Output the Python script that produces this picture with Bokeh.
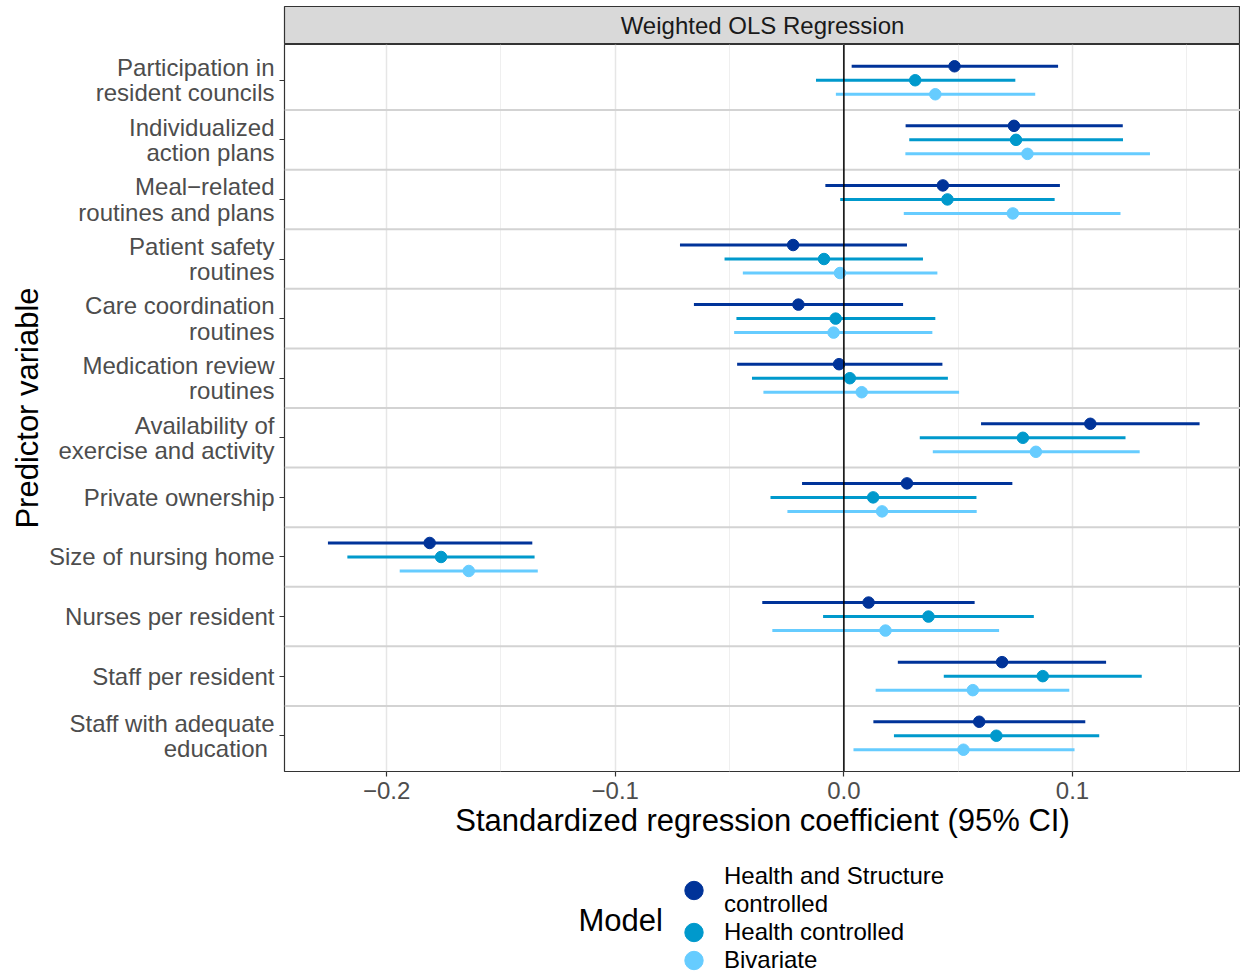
import numpy as np
from bokeh.plotting import figure
from bokeh.layouts import column
from bokeh.models import (ColumnDataSource, FactorRange, Range1d, Span, FixedTicker,
                          CustomJSTickFormatter, Legend, LegendItem, Label)
from bokeh.transform import dodge
from bokeh.embed import file_html
from bokeh.resources import INLINE

# ---------------- data ----------------
categories = [
    "Participation in\nresident councils",
    "Individualized\naction plans",
    "Meal\u2212related\nroutines and plans",
    "Patient safety\nroutines",
    "Care coordination\nroutines",
    "Medication review\nroutines",
    "Availability of\nexercise and activity",
    "Private ownership",
    "Size of nursing home",
    "Nurses per resident",
    "Staff per resident",
    "Staff with adequate\neducation ",
]
model_labels = ["Health and Structure\ncontrolled", "Health controlled", "Bivariate"]

hs_est = [0.0484, 0.0744, 0.0433, -0.0222, -0.0199, -0.0021, 0.1078, 0.0276, -0.1812, 0.0108, 0.0692, 0.0592]
hs_lo = [0.0034, 0.0270, -0.0081, -0.0717, -0.0656, -0.0467, 0.0600, -0.0183, -0.2257, -0.0357, 0.0236, 0.0129]
hs_hi = [0.0937, 0.1220, 0.0945, 0.0276, 0.0259, 0.0431, 0.1556, 0.0737, -0.1363, 0.0572, 0.1147, 0.1056]

h_est = [0.0312, 0.0753, 0.0453, -0.0087, -0.0036, 0.0026, 0.0783, 0.0128, -0.1762, 0.0370, 0.0870, 0.0667]
h_lo = [-0.0122, 0.0286, -0.0016, -0.0522, -0.0470, -0.0402, 0.0332, -0.0321, -0.2172, -0.0091, 0.0437, 0.0219]
h_hi = [0.0750, 0.1221, 0.0922, 0.0346, 0.0400, 0.0455, 0.1232, 0.0580, -0.1353, 0.0831, 0.1303, 0.1117]

b_est = [0.0400, 0.0803, 0.0739, -0.0017, -0.0045, 0.0078, 0.0840, 0.0167, -0.1641, 0.0182, 0.0564, 0.0523]
b_lo = [-0.0035, 0.0269, 0.0262, -0.0442, -0.0480, -0.0352, 0.0389, -0.0247, -0.1943, -0.0313, 0.0139, 0.0042]
b_hi = [0.0837, 0.1339, 0.1210, 0.0409, 0.0387, 0.0504, 0.1294, 0.0581, -0.1339, 0.0679, 0.0986, 0.1009]

x_ticks = [-0.2, -0.1, 0.0, 0.1]
x_minor = [-0.25, -0.15, -0.05, 0.05, 0.15]

# ---------------- styling ----------------
FONT = "Liberation Sans"
colors = ["#003399", "#0099CC", "#66CCFF"]
offsets = [0.235, 0.0, -0.235]
W = 1240
LEFT = 284

# ---------------- strip ----------------
strip = figure(width=W, height=44, x_range=Range1d(0, 1), y_range=Range1d(0, 1),
               toolbar_location=None, output_backend="svg",
               x_axis_location=None, y_axis_location=None,
               min_border_left=LEFT, min_border_right=0, min_border_top=6, min_border_bottom=0)
strip.grid.visible = False
strip.background_fill_color = "#d9d9d9"
strip.outline_line_color = "#333333"
strip.outline_line_width = 1.2
strip.add_layout(Label(x=0.5, y=0.5, text="Weighted OLS Regression", text_align="center",
                       text_baseline="middle", text_font=FONT, text_font_size="24px",
                       text_color="#1a1a1a"))

# ---------------- main ----------------
p = figure(width=W, height=812,
           x_range=Range1d(-0.2447, 0.1735),
           y_range=FactorRange(*list(reversed(categories)), range_padding=0.2 / 12,
                               range_padding_units="percent"),
           toolbar_location=None, output_backend="svg",
           min_border_left=LEFT, min_border_right=0, min_border_top=0, min_border_bottom=85)

p.background_fill_color = "white"
p.outline_line_color = "#333333"
p.outline_line_width = 1.2

ticker = FixedTicker(ticks=x_ticks, minor_ticks=x_minor)
p.xaxis.ticker = ticker
p.xgrid.ticker = ticker
p.xaxis.formatter = CustomJSTickFormatter(code="return tick.toFixed(1).replace('-', '\u2212');")
p.xgrid.grid_line_color = "#e6e6e6"
p.xgrid.grid_line_width = 1.5
p.xgrid.minor_grid_line_color = "#efefef"
p.xgrid.minor_grid_line_width = 1.0
p.ygrid.grid_line_color = None

for k in range(1, len(categories)):
    p.add_layout(Span(location=k, dimension="width", line_color="#d3d3d3",
                      line_width=2, level="underlay"))

for ax in (p.xaxis, p.yaxis):
    ax.axis_line_color = None
    ax.major_tick_line_color = "#333333"
    ax.major_tick_line_width = 1.2
    ax.major_tick_out = 5
    ax.major_tick_in = 0
    ax.minor_tick_out = 0
    ax.minor_tick_in = 0
    ax.major_label_text_font = FONT
    ax.major_label_text_color = "#4d4d4d"
    ax.major_label_text_font_size = "24px"
    ax.axis_label_text_font = FONT
    ax.axis_label_text_font_style = "normal"
    ax.axis_label_text_color = "black"
    ax.axis_label_text_font_size = "31px"

p.xaxis.major_label_standoff = 5
p.xaxis.axis_label = "Standardized regression coefficient (95% CI)"
p.xaxis.axis_label_standoff = 1

p.yaxis.major_label_text_line_height = 0.94
p.yaxis.major_label_standoff = 5
p.yaxis.axis_label = "Predictor variable"
p.yaxis.axis_label_standoff = 1

series = [(hs_est, hs_lo, hs_hi), (h_est, h_lo, h_hi), (b_est, b_lo, b_hi)]
for (est, lo, hi), col, off in zip(series, colors, offsets):
    src = ColumnDataSource(dict(cat=categories, est=est, lo=lo, hi=hi))
    yy = dodge("cat", off, range=p.y_range)
    p.segment(x0="lo", x1="hi", y0=yy, y1=yy, source=src, line_color=col, line_width=3)
    p.scatter(x="est", y=yy, source=src, size=11.5, fill_color=col, line_color=col)

p.add_layout(Span(location=0, dimension="height", line_color="black", line_width=1.5))

# ---------------- legend ----------------
lg = figure(width=W, height=119, x_range=Range1d(0, 1), y_range=Range1d(0, 1),
            toolbar_location=None, output_backend="svg",
            x_axis_location=None, y_axis_location=None,
            min_border_left=LEFT, min_border_right=0, min_border_top=0, min_border_bottom=0)
lg.grid.visible = False
lg.outline_line_color = None
keys = [lg.ellipse(x=[np.nan], y=[np.nan], width=18, height=18,
                   width_units="screen", height_units="screen",
                   fill_color=col, line_color=col)
        for col in colors]
legend = Legend(items=[LegendItem(label=lab, renderers=[r]) for lab, r in zip(model_labels, keys)],
                location=(398, 1), orientation="vertical",
                background_fill_alpha=0, border_line_color=None,
                padding=0, margin=0, spacing=0,
                glyph_width=23, glyph_height=28, label_standoff=19,
                label_text_font=FONT, label_text_font_size="24px",
                label_text_color="black", label_text_line_height=0.945)
lg.add_layout(legend)
lg.add_layout(Label(x=294, y=55, x_units="screen", y_units="screen", text="Model",
                    text_align="left", text_baseline="middle", text_font=FONT,
                    text_font_size="31px", text_color="black"))

layout = column(strip, p, lg, spacing=0)
open("out.html", "w").write(file_html(layout, INLINE))
